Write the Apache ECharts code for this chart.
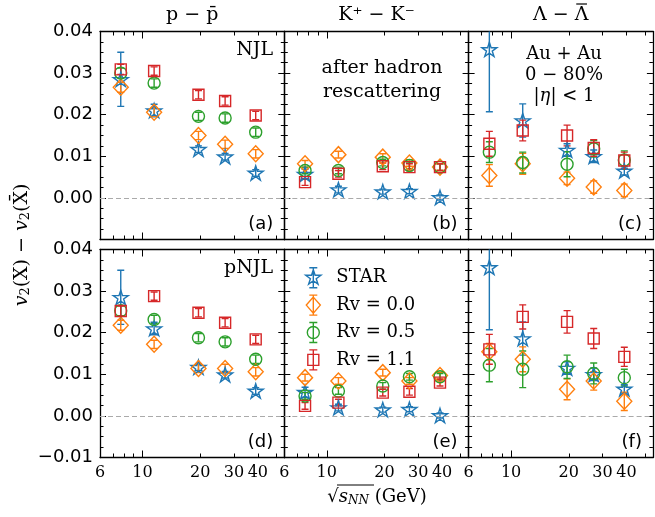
<!DOCTYPE html>
<html><head><meta charset="utf-8">
<script src="https://cdn.jsdelivr.net/npm/echarts@6/dist/echarts.min.js"></script>
<style>html,body{margin:0;padding:0;background:#fff}#c{width:655px;height:517px}</style>
</head><body><div id="c"></div>
<script>
// ---------------- data ----------------
const energies = [7.7, 11.5, 19.6, 27, 39];
const xTickLabels = [6, 10, 20, 30, 40];
const xMinorTicks = [6, 7, 8, 9, 20, 30, 40, 50];
const xMajorTicks = [10];
const columnTitles = ['p \u2212 p\u0304', 'K\u207A \u2212 K\u207B', '\u039B \u2212 \u039B'];
const seriesNames = ['STAR', 'Rv = 0.0', 'Rv = 0.5', 'Rv = 1.1'];

// STAR data (same in NJL and pNJL rows)
const starPP = [0.0285, 0.0210, 0.0117, 0.0099, 0.0060];
const starPPErr = [0.0065, 0.0015, 0.0008, 0.0008, 0.0008];
const starKK = [0.0057, 0.0020, 0.0015, 0.0016, 0.0001];
const starKKErr = [0.0012, 0.0008, 0.0006, 0.0006, 0.0006];
const starLL = [0.0357, 0.0186, 0.0115, 0.0100, 0.0065];
const starLLErr = [0.0150, 0.0040, 0.0015, 0.0015, 0.0010];

// NJL row
const njlPP_Rv00 = [0.0266, 0.0206, 0.0150, 0.0129, 0.0106];
const njlPP_Rv05 = [0.0300, 0.0276, 0.0196, 0.0192, 0.0158];
const njlPP_Rv11 = [0.0309, 0.0305, 0.0248, 0.0233, 0.0198];
const njlPP_Err = [0.0012, 0.0010, 0.0010, 0.0010, 0.0010];
const njlKK_Rv00 = [0.0082, 0.0104, 0.0098, 0.0084, 0.0074];
const njlKK_Rv05 = [0.0066, 0.0066, 0.0085, 0.0078, 0.0074];
const njlKK_Rv11 = [0.0038, 0.0058, 0.0076, 0.0074, 0.0074];
const njlKK_Err = [0.0008, 0.0008, 0.0008, 0.0008, 0.0008];
const njlLL_Rv00 = [0.0054, 0.0082, 0.0047, 0.0026, 0.0018];
const njlLL_Rv00Err = [0.0026, 0.0025, 0.0015, 0.0015, 0.0015];
const njlLL_Rv05 = [0.0110, 0.0085, 0.0081, 0.0118, 0.0091];
const njlLL_Rv05Err = [0.0025, 0.0025, 0.0030, 0.0020, 0.0022];
const njlLL_Rv11 = [0.0130, 0.0162, 0.0150, 0.0120, 0.0090];
const njlLL_Rv11Err = [0.0030, 0.0025, 0.0025, 0.0020, 0.0020];

// pNJL row
const pnjlPP_Rv00 = [0.0218, 0.0172, 0.0114, 0.0114, 0.0106];
const pnjlPP_Rv05 = [0.0253, 0.0232, 0.0188, 0.0178, 0.0136];
const pnjlPP_Rv11 = [0.0252, 0.0288, 0.0248, 0.0224, 0.0184];
const pnjlPP_Err = [0.0012, 0.0010, 0.0010, 0.0010, 0.0010];
const pnjlKK_Rv00 = [0.0092, 0.0084, 0.0104, 0.0084, 0.0097];
const pnjlKK_Rv05 = [0.0048, 0.0060, 0.0072, 0.0094, 0.0094];
const pnjlKK_Rv11 = [0.0024, 0.0032, 0.0056, 0.0058, 0.0080];
const pnjlKK_Err = [0.0008, 0.0008, 0.0008, 0.0008, 0.0008];
const pnjlLL_Rv00 = [0.0154, 0.0136, 0.0064, 0.0084, 0.0035];
const pnjlLL_Rv00Err = [0.0020, 0.0030, 0.0025, 0.0022, 0.0022];
const pnjlLL_Rv05 = [0.0122, 0.0112, 0.0118, 0.0102, 0.0092];
const pnjlLL_Rv05Err = [0.0040, 0.0044, 0.0028, 0.0025, 0.0020];
const pnjlLL_Rv11 = [0.0160, 0.0238, 0.0226, 0.0186, 0.0142];
const pnjlLL_Rv11Err = [0.0036, 0.0029, 0.0027, 0.0024, 0.0023];

const panelLetters = ['(a)', '(b)', '(c)', '(d)', '(e)', '(f)'];

// ---------------- styling ----------------
const colors = ['#1f77b4', '#ff7f0e', '#2ca02c', '#d62728'];
const STAR_PATH = 'path://M0,-10 L2.245,-3.09 L9.511,-3.09 L3.633,1.18 L5.878,8.09 L0,3.82 L-5.878,8.09 L-3.633,1.18 L-9.511,-3.09 L-2.245,-3.09 Z';
const symbols = [STAR_PATH, 'diamond', 'circle', 'rect'];
const symbolSizes = [15, [15, 16], 12, 11];
const BAR = ' M0,-10 L0,10 M-4,-10 L4,-10 M-4,10 L4,10';
const legendIcons = [
  'path://M0,-8 L1.796,-2.472 L7.609,-2.472 L2.906,0.944 L4.702,6.472 L0,3.056 L-4.702,6.472 L-2.906,0.944 L-7.609,-2.472 L-1.796,-2.472 Z' + BAR,
  'path://M0,-8 L7,0 L0,8 L-7,0 Z' + BAR,
  'path://M-6,0 A6,6 0 1,0 6,0 A6,6 0 1,0 -6,0 Z' + BAR,
  'path://M-5.5,-5.5 L5.5,-5.5 L5.5,5.5 L-5.5,5.5 Z' + BAR
];

const panels = [
  {row: 0, col: 0, groups: [[starPP, starPPErr], [njlPP_Rv00, njlPP_Err], [njlPP_Rv05, njlPP_Err], [njlPP_Rv11, njlPP_Err]]},
  {row: 0, col: 1, groups: [[starKK, starKKErr], [njlKK_Rv00, njlKK_Err], [njlKK_Rv05, njlKK_Err], [njlKK_Rv11, njlKK_Err]]},
  {row: 0, col: 2, groups: [[starLL, starLLErr], [njlLL_Rv00, njlLL_Rv00Err], [njlLL_Rv05, njlLL_Rv05Err], [njlLL_Rv11, njlLL_Rv11Err]]},
  {row: 1, col: 0, groups: [[starPP, starPPErr], [pnjlPP_Rv00, pnjlPP_Err], [pnjlPP_Rv05, pnjlPP_Err], [pnjlPP_Rv11, pnjlPP_Err]]},
  {row: 1, col: 1, groups: [[starKK, starKKErr], [pnjlKK_Rv00, pnjlKK_Err], [pnjlKK_Rv05, pnjlKK_Err], [pnjlKK_Rv11, pnjlKK_Err]]},
  {row: 1, col: 2, groups: [[starLL, starLLErr], [pnjlLL_Rv00, pnjlLL_Rv00Err], [pnjlLL_Rv05, pnjlLL_Rv05Err], [pnjlLL_Rv11, pnjlLL_Rv11Err]]}
];

const GL = 100, GW = 184.3, GH = 208;
const rowTops = [31.5, 249.5];
const SANS = 'DejaVu Sans', SERIF = 'DejaVu Serif';

const grids = [], xAxes = [], yAxes = [], series = [];

function yFmt(v) {
  if (Math.abs(v) < 1e-9) return '0.00';
  return v < 0 ? '\u2212' + Math.abs(v).toFixed(2) : v.toFixed(2);
}

panels.forEach((p, g) => {
  grids.push({left: GL + p.col * GW, top: rowTops[p.row], width: GW, height: GH, containLabel: false});
  const axLine = {show: true, onZero: false, lineStyle: {color: '#000', width: 1.3}};
  const baseX = (pos, ticks, len, withLabels, line) => ({
    type: 'log', logBase: 10, min: 6, max: 55, gridIndex: g, position: pos,
    axisLine: line ? axLine : {show: false, onZero: false},
    axisTick: {show: true, inside: true, length: len, customValues: ticks, lineStyle: {color: '#000', width: 1}},
    axisLabel: withLabels ? {show: true, customValues: xTickLabels, formatter: v => String(Math.round(v)),
      fontFamily: SERIF, fontSize: 16, color: '#000', margin: 7} : {show: false},
    splitLine: {show: false}, minorTick: {show: false}
  });
  xAxes.push(baseX('bottom', xMinorTicks, 4, p.row === 1, true));
  xAxes.push(baseX('bottom', xMajorTicks, 7, false, false));
  xAxes.push(baseX('top', xMinorTicks, 4, false, true));
  xAxes.push(baseX('top', xMajorTicks, 7, false, false));
  const baseY = (pos, withLabels) => ({
    type: 'value', min: -0.01, max: 0.04, interval: 0.01, gridIndex: g, position: pos,
    axisLine: axLine,
    axisTick: {show: true, inside: true, length: 6, lineStyle: {color: '#000', width: 1}},
    minorTick: {show: true, splitNumber: 4, length: 3.5, lineStyle: {color: '#000', width: 1}},
    axisLabel: withLabels ? {show: true, fontFamily: SANS, fontSize: 18, color: '#000', margin: 7,
      formatter: v => (p.row === 0 && v < -0.005) ? '' : yFmt(v)} : {show: false},
    splitLine: {show: false}
  });
  yAxes.push(baseY('left', p.col === 0));
  yAxes.push(baseY('right', false));

  p.groups.forEach((grp, k) => {
    const vals = grp[0], errs = grp[1];
    const col = colors[k];
    series.push({
      type: 'custom', name: seriesNames[k] + ' err', xAxisIndex: g * 4, yAxisIndex: g * 2,
      clip: true, silent: true,
      encode: {x: 0, y: [1, 2]},
      data: energies.map((e, i) => [e, vals[i] - errs[i], vals[i] + errs[i]]),
      renderItem: (params, api) => {
        const x = api.value(0);
        const lo = api.coord([x, api.value(1)]);
        const hi = api.coord([x, api.value(2)]);
        const c = 3.5;
        const st = {stroke: col, lineWidth: 1.4, fill: null};
        return {type: 'group', children: [
          {type: 'line', shape: {x1: lo[0], y1: lo[1], x2: hi[0], y2: hi[1]}, style: st},
          {type: 'line', shape: {x1: lo[0] - c, y1: lo[1], x2: lo[0] + c, y2: lo[1]}, style: st},
          {type: 'line', shape: {x1: hi[0] - c, y1: hi[1], x2: hi[0] + c, y2: hi[1]}, style: st}
        ]};
      }
    });
    const s = {
      type: 'scatter', name: seriesNames[k], xAxisIndex: g * 4, yAxisIndex: g * 2,
      symbol: symbols[k], symbolSize: symbolSizes[k], symbolKeepAspect: true,
      itemStyle: {color: 'rgba(0,0,0,0)', borderColor: col, borderWidth: 1.4, opacity: 1},
      emphasis: {disabled: true}, silent: true,
      data: energies.map((e, i) => [e, vals[i]])
    };
    if (k === 0) {
      s.markLine = {silent: true, symbol: 'none', label: {show: false}, animation: false,
        lineStyle: {color: '#aaaaaa', type: [5, 3], width: 1.2}, data: [{yAxis: 0}]};
    }
    series.push(s);
  });
});

// ---------------- annotations ----------------
const graphics = [];
function txt(x, y, text, font, size, align, extra) {
  graphics.push({
    type: 'text', x: x, y: y, silent: true,
    style: Object.assign({text: text, fontFamily: font, fontSize: size, fill: '#000',
      align: align || 'center', verticalAlign: 'middle', textAlign: align || 'center', textVerticalAlign: 'middle'}, extra || {})
  });
}
columnTitles.forEach((t, i) => txt(GL + GW * i + GW / 2, 15, t, SERIF, 19));
// overbar on the last Lambda of the third title
(function () {
  const cv = document.createElement('canvas').getContext('2d');
  cv.font = '19px "' + SERIF + '"';
  const full = cv.measureText(columnTitles[2]).width;
  const last = cv.measureText('\u039B').width;
  const cx = GL + GW * 2 + GW / 2;
  const x2 = cx + full / 2;
  graphics.push({type: 'line', silent: true, shape: {x1: x2 - last + 1.5, y1: 4, x2: x2 - 1.5, y2: 4},
    style: {stroke: '#000', lineWidth: 1.2}});
})();
panelLetters.forEach((t, i) => {
  const col = i % 3, row = Math.floor(i / 3);
  txt(GL + GW * (col + 1) - 11, rowTops[row] + GH - 15, t, SANS, 18, 'right');
});
txt(273, 50, 'NJL', SERIF, 19, 'right');
txt(273, 268, 'pNJL', SERIF, 19, 'right');
txt(382, 68, 'after hadron', SERIF, 19);
txt(382, 92, 'rescattering', SERIF, 19);
txt(564, 54, 'Au + Au', SERIF, 18);
txt(564, 75, '0 \u2212 80%', SERIF, 18);
graphics.push({type: 'text', x: 564, y: 96, silent: true, style: {
  text: '|{i|\u03B7}| < 1', fontFamily: SERIF, fontSize: 18, fill: '#000',
  align: 'center', verticalAlign: 'middle', textAlign: 'center', textVerticalAlign: 'middle',
  rich: {i: {fontFamily: SERIF, fontStyle: 'italic', fontSize: 18, fill: '#000'}}}});
// y axis title (rotated)
graphics.push({type: 'text', x: 22, y: 245, rotation: Math.PI / 2, silent: true, style: {
  text: '{i|v}{s|2}(X) \u2212 {i|v}{s|2}(X\u0304)', fontFamily: SERIF, fontSize: 19, fill: '#000',
  align: 'center', verticalAlign: 'middle', textAlign: 'center', textVerticalAlign: 'middle',
  rich: {
    i: {fontFamily: SERIF, fontStyle: 'italic', fontSize: 19, fill: '#000'},
    s: {fontFamily: SERIF, fontSize: 13, fill: '#000', padding: [8, 0, 0, 0]}
  }}});
// x axis title
graphics.push({type: 'text', x: 377, y: 497, silent: true, style: {
  text: '\u221A{i|s}{s|NN} (GeV)', fontFamily: SERIF, fontSize: 18, fill: '#000',
  align: 'center', verticalAlign: 'middle', textAlign: 'center', textVerticalAlign: 'middle',
  rich: {
    i: {fontFamily: SERIF, fontStyle: 'italic', fontSize: 18, fill: '#000'},
    s: {fontFamily: SERIF, fontStyle: 'italic', fontSize: 12, fill: '#000', padding: [8, 0, 0, 0]}
  }}});
graphics.push({type: 'line', silent: true, shape: {x1: 337, y1: 485, x2: 374, y2: 485}, style: {stroke: '#000', lineWidth: 1}});

const option = {
  animation: false,
  backgroundColor: '#fff',
  grid: grids, xAxis: xAxes, yAxis: yAxes, series: series,
  legend: {
    show: true, orient: 'vertical', left: 300, top: 262, itemWidth: 20, itemHeight: 20, itemGap: 6,
    selectedMode: false, symbolKeepAspect: true,
    textStyle: {fontFamily: SERIF, fontSize: 18, color: '#000', padding: [0, 0, 0, 8]},
    data: seriesNames.map((n, k) => ({name: n, icon: legendIcons[k],
      itemStyle: {color: 'rgba(0,0,0,0)', borderColor: colors[k], borderWidth: 1.4}}))
  },
  graphic: graphics
};
const chart = echarts.init(document.getElementById('c'), null, {renderer: 'canvas'});
chart.setOption(option);
</script></body></html>
